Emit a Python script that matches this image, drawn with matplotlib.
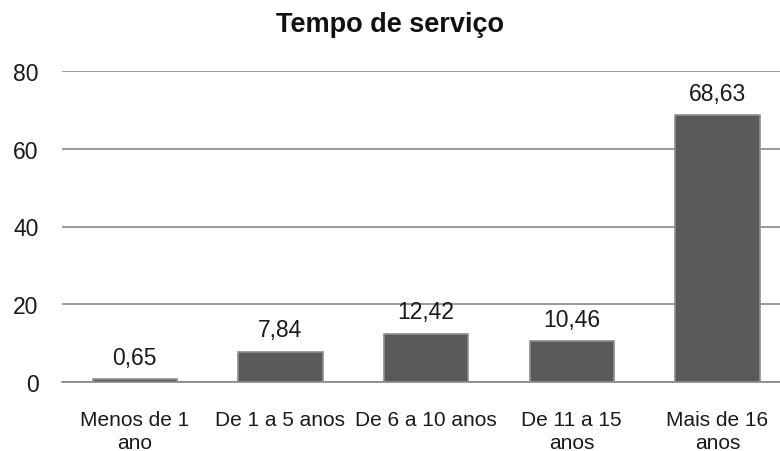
import matplotlib
matplotlib.use("Agg")
import matplotlib.pyplot as plt

categories = ["Menos de 1\nano", "De 1 a 5 anos", "De 6 a 10 anos", "De 11 a 15\nanos", "Mais de 16\nanos"]
values = [0.65, 7.84, 12.42, 10.46, 68.63]
labels = ["0,65", "7,84", "12,42", "10,46", "68,63"]
yticks = [0, 20, 40, 60, 80]

plt.rcParams['font.family'] = ['Liberation Sans', 'DejaVu Sans']

fig = plt.figure(figsize=(7.8, 4.52), dpi=100)
ax = fig.add_axes([62/780, 1 - 383/452, 1 - 62/780, (383 - 72)/452])

x = list(range(len(values)))
bars = ax.bar(x, values, width=0.58, color='#5a5a5a', edgecolor='#8e8e8e', linewidth=1.2, zorder=3)

for xi, v, lab in zip(x, values, labels):
    ax.annotate(lab, (xi, v), xytext=(0, 11), textcoords='offset points',
                ha='center', va='baseline', fontsize=16.5, color='#1a1a1a')

ax.set_ylim(0, 80)
ax.set_xlim(-0.5, 4.43)
ax.set_yticks(yticks)
ax.set_yticklabels([str(t) for t in yticks], fontsize=16.5)
ax.set_xticks(x)
ax.set_xticklabels(categories, fontsize=15, linespacing=1.25)
ax.tick_params(axis='both', length=0, colors='#1a1a1a')
ax.tick_params(axis='y', pad=17)
ax.tick_params(axis='x', pad=20)
ax.grid(axis='y', color='#868686', linewidth=1.2, zorder=0)
for s in ['left', 'right', 'top']:
    ax.spines[s].set_visible(False)
ax.spines['bottom'].set_color('#868686')
ax.spines['bottom'].set_linewidth(1.2)

fig.text(0.5, 1 - 32/452, "Tempo de serviço", ha='center', va='baseline',
         fontsize=19.5, fontweight='bold', color='#111111')

fig.savefig("out.png", dpi=100)
